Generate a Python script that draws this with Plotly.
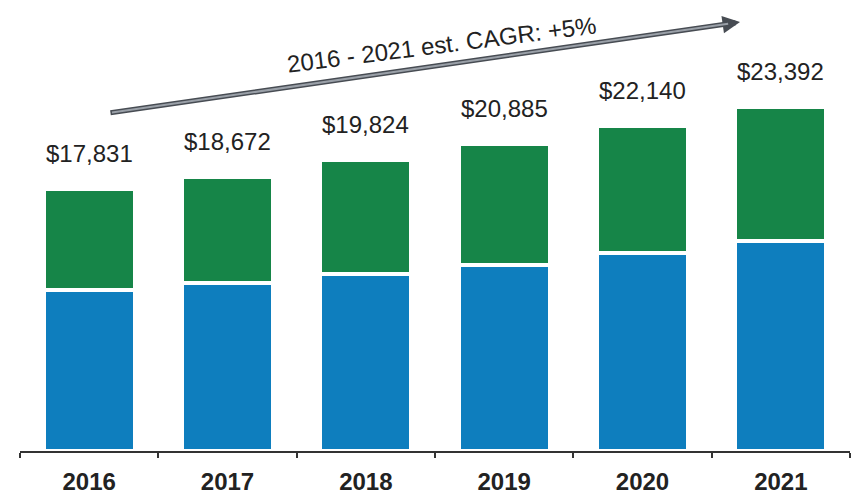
import plotly.graph_objects as go

# Annual totals split into two components (USD millions)
years = ["2016", "2017", "2018", "2019", "2020", "2021"]
totals = [17831, 18672, 19824, 20885, 22140, 23392]
base_values = [10920, 11400, 12040, 12650, 13470, 14290]
top_values = [t - b for t, b in zip(totals, base_values)]
total_labels = [f"${t:,}" for t in totals]
cagr_label = "2016 - 2021 est. CAGR: +5%"

BLUE = "#0e7ebe"
GREEN = "#168548"
FONT = "Liberation Sans, Arial, sans-serif"

fig = go.Figure()
fig.add_trace(go.Bar(
    x=years, y=base_values, marker=dict(color=BLUE, line=dict(color="white", width=4)),
    hoverinfo="skip",
))
fig.add_trace(go.Bar(
    x=years, y=top_values, marker=dict(color=GREEN, line=dict(color="white", width=4)),
    hoverinfo="skip",
))

# Total labels above each stack (category axis positions given by index)
for i, (tot, lab) in enumerate(zip(totals, total_labels)):
    fig.add_annotation(
        x=i, y=tot, text=lab, showarrow=False, yanchor="bottom", yshift=20,
        font=dict(family=FONT, size=24, color="#222222"),
    )

# Growth arrow: dark outline with a lighter core (x as category index)
arrow_tail = (0.143, 22990)
arrow_head = (4.705, 29180)
fig.add_annotation(
    x=arrow_head[0], y=arrow_head[1], ax=arrow_tail[0], ay=arrow_tail[1],
    xref="x", yref="y", axref="x", ayref="y", text="", showarrow=True,
    arrowhead=2, arrowsize=0.7, arrowwidth=5, arrowcolor="#474c53",
)
fig.add_annotation(
    x=arrow_head[0], y=arrow_head[1], ax=arrow_tail[0], ay=arrow_tail[1],
    xref="x", yref="y", axref="x", ayref="y", text="", showarrow=True,
    arrowhead=0, arrowwidth=2, arrowcolor="#9aa0a8", standoff=12, startstandoff=1.5,
)
fig.add_annotation(
    x=2.55, y=27620, text=cagr_label, showarrow=False, textangle=-7.3,
    font=dict(family=FONT, size=24, color="#222222"),
)

fig.update_layout(
    barmode="stack",
    bargap=0.342,
    width=852, height=494,
    margin=dict(l=20, r=2, t=0, b=43),
    paper_bgcolor="white", plot_bgcolor="white",
    showlegend=False,
    font=dict(family=FONT),
)
fig.update_xaxes(
    type="category", range=[-0.5, 5.5],
    showline=True, linecolor="#333333", linewidth=1.5,
    ticks="outside", tickson="boundaries", ticklen=5, tickwidth=1.5, tickcolor="#333333",
    tickfont=dict(family=FONT, size=24, color="#222222", weight="bold"),
    ticklabelstandoff=8, tickangle=0, showgrid=False, fixedrange=True,
)
fig.update_yaxes(visible=False, range=[0, 30680], fixedrange=True)

fig.write_html("out.html", config={"displayModeBar": False})
